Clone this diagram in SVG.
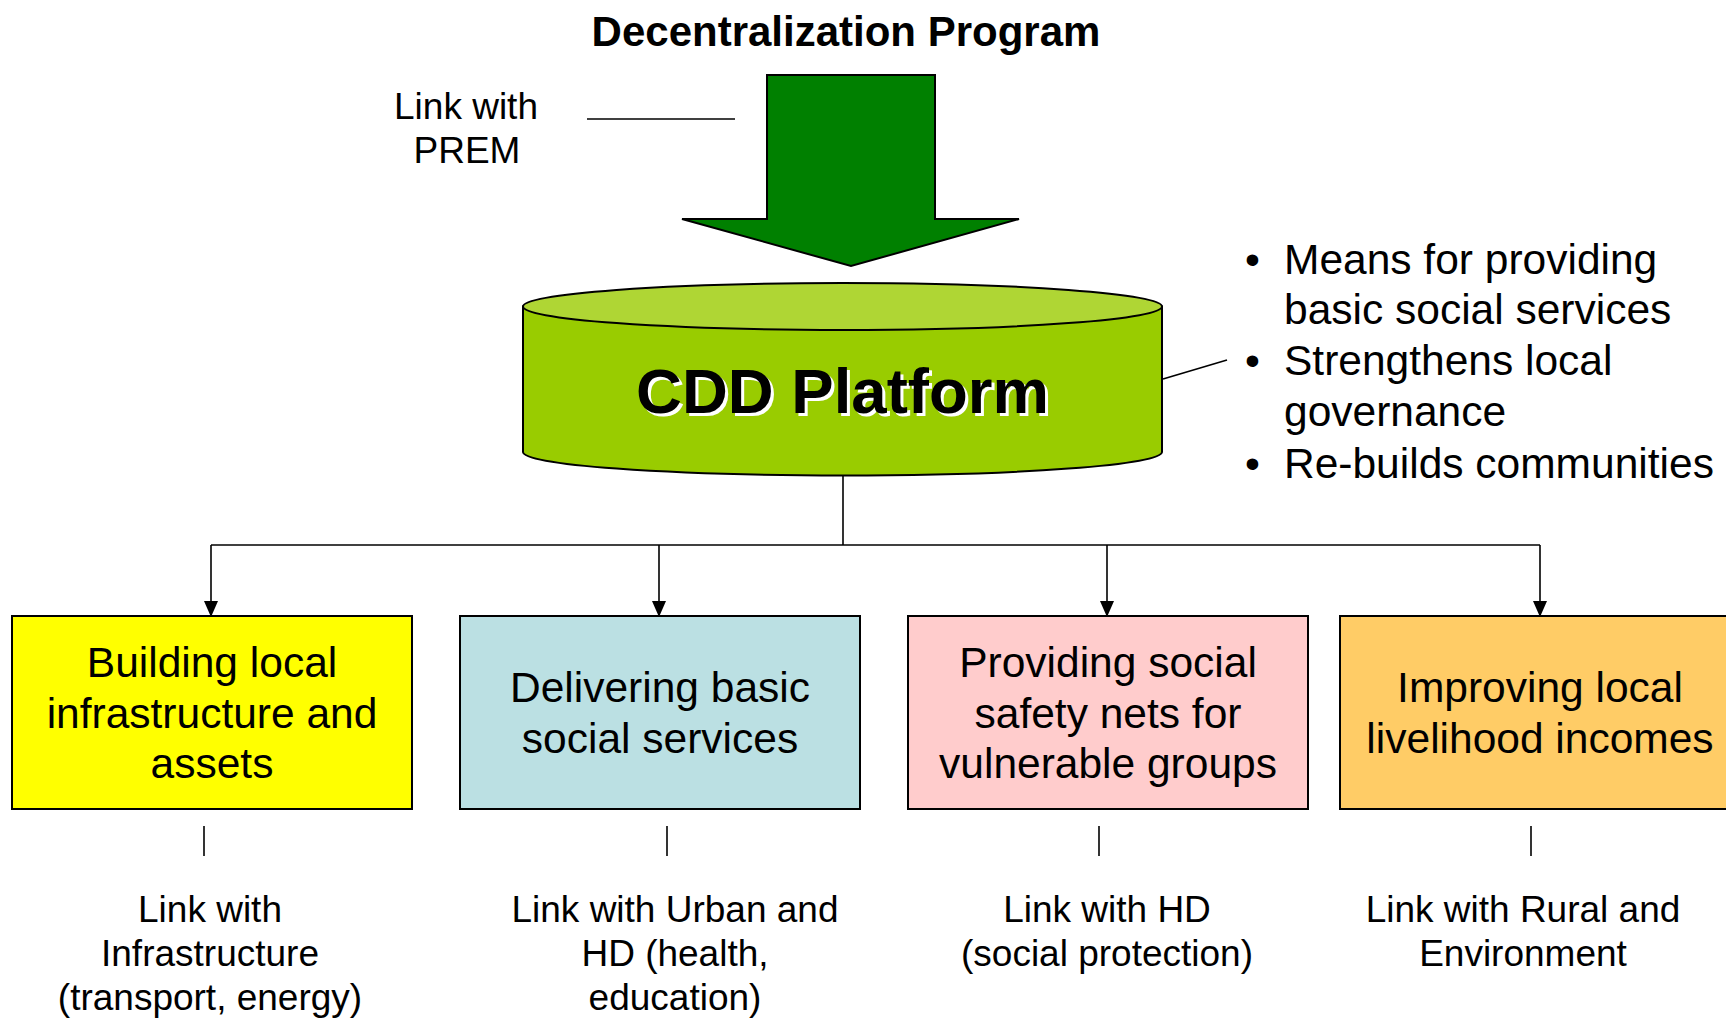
<svg xmlns="http://www.w3.org/2000/svg" width="1726" height="1018" viewBox="0 0 1726 1018">
<style>
text{font-family:"Liberation Sans",Arial,sans-serif;fill:#000;text-anchor:middle}
.t42{font-size:42.5px}
.t37{font-size:37px}
.box{stroke:#000;stroke-width:2}
.ln{stroke:#000;stroke-width:1.6;fill:none}
</style>
<defs>
<marker id="ah" markerWidth="16" markerHeight="16" refX="15" refY="7" orient="auto" markerUnits="userSpaceOnUse">
<path d="M0,0 L16,7 L0,14 Z" fill="#000"/>
</marker>
</defs>
<rect width="1726" height="1018" fill="#fff"/>

<g id="title">
<text x="846" y="46" style="font-size:42px;font-weight:bold">Decentralization Program</text>
</g>

<g id="prem">
<text class="t37" x="466" y="119">Link with</text>
<text class="t37" x="467" y="163">PREM</text>
</g>

<g id="arrow">
<path d="M767,75 L935,75 L935,219 L1019,219 L851,266 L682,219 L767,219 Z" fill="#008000" stroke="#000" stroke-width="2"/>
</g>

<g id="cdd">
<path d="M523,306.5 L523,452 A319.5,23.5 0 0 0 1162,452 L1162,306.5 Z" fill="#99cc00" stroke="#000" stroke-width="2"/>
<ellipse cx="842.5" cy="306.5" rx="319.5" ry="23.5" fill="#afd634" stroke="#000" stroke-width="2"/>
<text x="845.5" y="416" style="font-size:63.5px;font-weight:bold;fill:#fff">CDD Platform</text>
<text x="842.5" y="413" style="font-size:63.5px;font-weight:bold">CDD Platform</text>
</g>

<g id="bullets">
<g class="t42">
<text x="1245" y="274" style="text-anchor:start">•</text>
<text x="1284" y="274" style="text-anchor:start">Means for providing</text>
<text x="1284" y="324" style="text-anchor:start">basic social services</text>
<text x="1245" y="375" style="text-anchor:start">•</text>
<text x="1284" y="375" style="text-anchor:start">Strengthens local</text>
<text x="1284" y="426" style="text-anchor:start">governance</text>
<text x="1245" y="478" style="text-anchor:start">•</text>
<text x="1284" y="478" style="text-anchor:start">Re-builds communities</text>
</g>
</g>

<g id="connectors">
<line class="ln" x1="587" y1="119" x2="735" y2="119"/>
<line class="ln" x1="1163" y1="379" x2="1227" y2="360"/>
<line class="ln" x1="843" y1="476" x2="843" y2="545"/>
<line class="ln" x1="211" y1="545" x2="1540" y2="545"/>
<line class="ln" x1="211" y1="545" x2="211" y2="616" marker-end="url(#ah)"/>
<line class="ln" x1="659" y1="545" x2="659" y2="616" marker-end="url(#ah)"/>
<line class="ln" x1="1107" y1="545" x2="1107" y2="616" marker-end="url(#ah)"/>
<line class="ln" x1="1540" y1="545" x2="1540" y2="616" marker-end="url(#ah)"/>
<line class="ln" x1="204" y1="826" x2="204" y2="856"/>
<line class="ln" x1="667" y1="826" x2="667" y2="856"/>
<line class="ln" x1="1099" y1="826" x2="1099" y2="856"/>
<line class="ln" x1="1531" y1="826" x2="1531" y2="856"/>
</g>

<g id="box1">
<rect class="box" x="12" y="616" width="400" height="193" fill="#ffff00"/>
<text class="t42" x="212" y="677">Building local</text>
<text class="t42" x="212" y="728">infrastructure and</text>
<text class="t42" x="212" y="778">assets</text>
</g>
<g id="box2">
<rect class="box" x="460" y="616" width="400" height="193" fill="#bbe0e3"/>
<text class="t42" x="660" y="702">Delivering basic</text>
<text class="t42" x="660" y="753">social services</text>
</g>
<g id="box3">
<rect class="box" x="908" y="616" width="400" height="193" fill="#ffcccc"/>
<text class="t42" x="1108" y="677">Providing social</text>
<text class="t42" x="1108" y="728">safety nets for</text>
<text class="t42" x="1108" y="778">vulnerable groups</text>
</g>
<g id="box4">
<rect class="box" x="1340" y="616" width="400" height="193" fill="#ffcc66"/>
<text class="t42" x="1540" y="702">Improving local</text>
<text class="t42" x="1540" y="753">livelihood incomes</text>
</g>

<g id="link1">
<text class="t37" x="210" y="922">Link with</text>
<text class="t37" x="210" y="966">Infrastructure</text>
<text class="t37" x="210" y="1010">(transport, energy)</text>
</g>
<g id="link2">
<text class="t37" x="675" y="922">Link with Urban and</text>
<text class="t37" x="675" y="966">HD (health,</text>
<text class="t37" x="675" y="1010">education)</text>
</g>
<g id="link3">
<text class="t37" x="1107" y="922">Link with HD</text>
<text class="t37" x="1107" y="966">(social protection)</text>
</g>
<g id="link4">
<text class="t37" x="1523" y="922">Link with Rural and</text>
<text class="t37" x="1523" y="966">Environment</text>
</g>
</svg>
